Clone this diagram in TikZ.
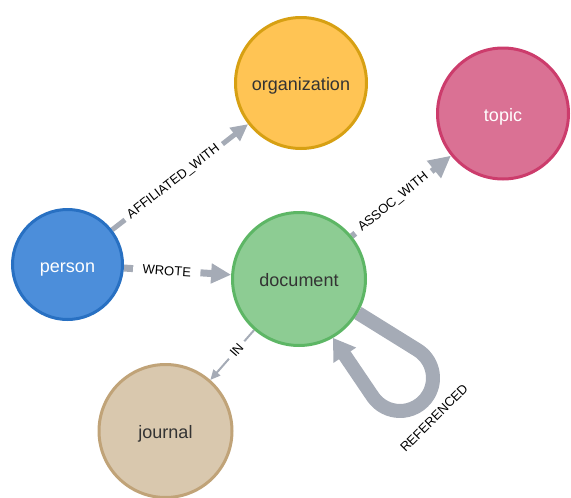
\documentclass[tikz,border=0pt]{standalone}
\usepackage{fontspec}
\setmainfont{Liberation Sans}
\usetikzlibrary{arrows.meta}
\pgfdeclarelayer{edgelayer}
\pgfsetlayers{edgelayer,main}
\definecolor{edgec}{HTML}{A5ABB6}
\definecolor{personfill}{HTML}{4C8EDA}
\definecolor{personline}{HTML}{2870C2}
\definecolor{orgfill}{HTML}{FFC454}
\definecolor{orgline}{HTML}{D7A013}
\definecolor{topicfill}{HTML}{DA7194}
\definecolor{topicline}{HTML}{CC3C6C}
\definecolor{docfill}{HTML}{8DCC93}
\definecolor{docline}{HTML}{5DB665}
\definecolor{jourfill}{HTML}{D9C8AE}
\definecolor{jourline}{HTML}{C0A378}
\definecolor{darktext}{HTML}{333333}
\begin{document}
\begin{tikzpicture}[x=1pt,y=-1pt,
  nd/.style={circle,draw,line width=3pt,inner sep=0pt,text height=15pt,text depth=0pt,font=\fontsize{18}{20}\selectfont},
  rel/.style={draw=edgec,line join=round},
  lbl/.style={fill=white,sloped,inner ysep=1pt,font=\fontsize{13}{15}\selectfont,text=black}
]
\useasboundingbox (0,0) rectangle (571,498);
\node[nd,fill=personfill,draw=personline,text=white,minimum size=110] (person) at (67.5,264.5) {person};
\node[nd,fill=orgfill,draw=orgline,text=darktext,minimum size=131] (organization) at (301,83) {organization};
\node[nd,fill=topicfill,draw=topicline,text=white,minimum size=131] (topic) at (503,113.5) {topic};
\node[nd,fill=docfill,draw=docline,text=darktext,minimum size=133] (document) at (299,279) {document};
\node[nd,fill=jourfill,draw=jourline,text=darktext,minimum size=133] (journal) at (165.5,431) {journal};
\begin{pgfonlayer}{edgelayer}
\draw[rel,line width=5pt,-{Triangle[length=17pt,width=16pt]}] (person) -- node[lbl,pos=0.453,inner xsep=5pt] (l1) {AFFILIATED\_WITH} (organization);
\draw[rel,line width=7pt,-{Triangle[length=20pt,width=19pt]}] (person) -- node[lbl,pos=0.4,inner xsep=9.5pt] (l2) {WROTE} (document);
\draw[rel,line width=6pt,-{Triangle[length=22pt,width=21pt]}] (document) -- node[lbl,pos=0.42,inner xsep=6pt] (l3) {ASSOC\_WITH} (topic);
\draw[rel,line width=2pt,-{Triangle[length=10pt,width=9pt]}] (document) -- node[lbl,pos=0.4,inner xsep=5pt] (l4) {IN} (journal);
\draw[rel,line width=14pt,-{Triangle[length=21pt,width=26pt]}] (document.-30) -- (417,349.7) arc[start angle=-59,end angle=145,radius=33] -- (document.-60);
\node[font=\fontsize{13}{15}\selectfont,rotate=45] (l5) at (434,418) {REFERENCED};
\end{pgfonlayer}
\end{tikzpicture}
\end{document}
